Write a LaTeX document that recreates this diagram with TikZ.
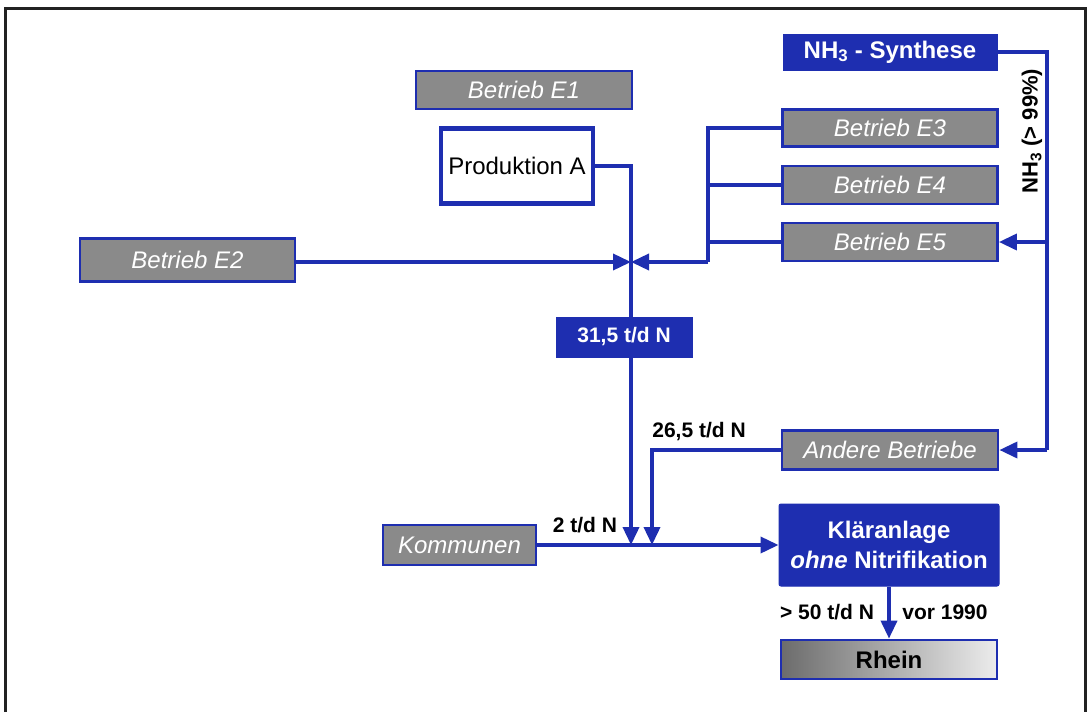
\documentclass[tikz,border=0pt]{standalone}
\usepackage{fontspec}
\setmainfont{Liberation Sans}
\usetikzlibrary{arrows.meta}
\definecolor{flowblue}{RGB}{30,46,176}
\definecolor{boxgray}{RGB}{138,138,138}
\definecolor{framegray}{RGB}{34,34,34}
\definecolor{riverdark}{RGB}{108,108,108}
\definecolor{riverlight}{RGB}{236,236,236}
\begin{document}
\begin{tikzpicture}[x=1pt,y=-1pt,
  every node/.style={inner sep=0pt,font=\fontsize{24}{30}\selectfont},
  graybox/.style={draw=flowblue,line width=2.8pt,fill=boxgray,text=white,
    font=\fontsize{24}{30}\selectfont\itshape},
  bluebox/.style={draw=flowblue,line width=1pt,fill=flowblue,text=white,
    font=\fontsize{24}{30}\selectfont\bfseries},
  whitebox/.style={draw=flowblue,line width=4.5pt,fill=white,text=black},
  flow/.style={draw=flowblue,line width=3.6pt},
  arr/.style={flow,-{Triangle[length=18pt,width=16pt]}},
  lbl/.style={font=\fontsize{21}{25}\selectfont\bfseries,text=black}]
\useasboundingbox (0,0) rectangle (1091,712);
\fill[white] (0,0) rectangle (1091,712);
% outer frame
\draw[framegray,line width=3pt] (5,712) -- (5,8.5) -- (1085,8.5) -- (1085,712);

% boxes
\node[bluebox,minimum width=214pt,minimum height=36pt] (NH3) at (890,52) {NH\textsubscript{3} - Synthese};
\node[graybox,minimum width=216pt,minimum height=38pt] (E1) at (524,90) {Betrieb E1};
\node[whitebox,minimum width=152pt,minimum height=75pt] (ProdA) at (517,166) {Produktion A};
\node[graybox,minimum width=215pt,minimum height=37pt] (E3) at (890,128) {Betrieb E3};
\node[graybox,minimum width=215pt,minimum height=38pt] (E4) at (890,185) {Betrieb E4};
\node[graybox,minimum width=215pt,minimum height=38pt] (E5) at (890,242) {Betrieb E5};
\node[graybox,minimum width=215pt,minimum height=43pt] (E2) at (187.5,260) {Betrieb E2};
\node[graybox,minimum width=216pt,minimum height=39pt] (And) at (890,450) {Andere Betriebe};
\node[graybox,minimum width=153pt,minimum height=40pt] (Kom) at (459.5,545) {Kommunen};
\node[bluebox,rounded corners=2pt,minimum width=220pt,minimum height=82pt,align=center] (KA) at (889,545)
  {Kläranlage\\\textit{ohne} Nitrifikation};
\node[draw=flowblue,line width=2.8pt,left color=riverdark,right color=riverlight,
  minimum width=216pt,minimum height=39pt,font=\fontsize{24}{30}\selectfont\bfseries] (Rh) at (889,659.5) {Rhein};

% junction points
\coordinate (J) at (631,262);
\coordinate (B) at (708,262);
\coordinate (R) at (1047,52);
\coordinate (M) at (652,545);

% Betrieb E3 to E5 collector
\draw[flow] (E3.west) -| (B);
\draw[flow] (E4.west) -- (E4.west -| B);
\draw[flow] (E5.west) -- (E5.west -| B);
\draw[arr] (B) -- (J);
\draw[arr] (E2.east |- J) -- (J);

% NH3 distribution
\draw[flow] (NH3.east) -| (And.east -| R);
\draw[arr] (E5.east -| R) -- (E5.east);
\draw[arr] (And.east -| R) -- (And.east);
\node[lbl,font=\fontsize{22}{26}\selectfont\bfseries,rotate=90] (nhlbl) at (1032,131) {NH\textsubscript{3} (> 99\%)};

% main collector through Produktion A
\draw[flow] (ProdA.east) -| (J);
\draw[arr] (J) -- (J |- Kom.east);
\node[bluebox,minimum width=136pt,minimum height=40pt,font=\fontsize{21}{25}\selectfont\bfseries] (N31) at (624,337) {31,5 t/d N};

% other companies and municipalities
\draw[arr] (And.west) -| (M);
\draw[arr] (Kom.east) -- (KA.west);
\draw[arr] (KA.south) -- (Rh.north);

% flow labels
\node[lbl] (l265) at (699,432) {26,5 t/d N};
\node[lbl] (l2) at (585,525) {2 t/d N};
\node[lbl] (l50) at (827,612) {> 50 t/d N};
\node[lbl] (l1990) at (945,612) {vor 1990};
\end{tikzpicture}
\end{document}
